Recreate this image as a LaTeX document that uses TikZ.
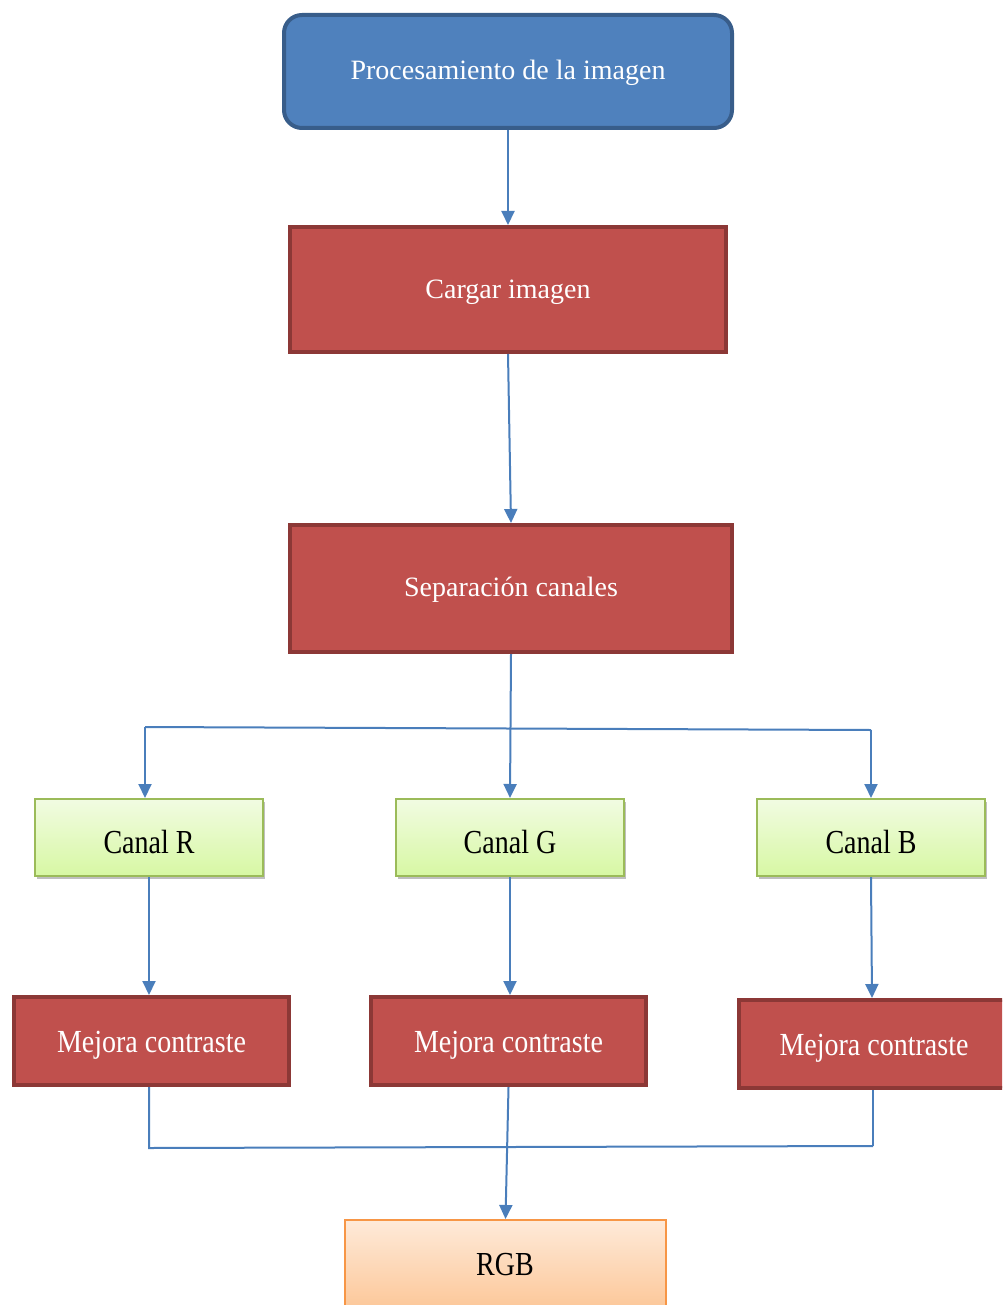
\documentclass[tikz,border=0pt]{standalone}
\usepackage{fontspec}
\setmainfont{Liberation Serif}
\usepackage{graphicx}
\usetikzlibrary{arrows.meta,shadows}
\definecolor{bluefill}{HTML}{4F81BD}
\definecolor{blueline}{HTML}{385D8A}
\definecolor{redfill}{HTML}{C0504D}
\definecolor{redline}{HTML}{8C3836}
\definecolor{greentop}{HTML}{F1FBE2}
\definecolor{greenbot}{HTML}{D7F8A3}
\definecolor{greenline}{HTML}{9BBB59}
\definecolor{orangetop}{HTML}{FEEAD9}
\definecolor{orangebot}{HTML}{FCC391}
\definecolor{orangeline}{HTML}{F79646}
\definecolor{arrowcol}{HTML}{4A7EBB}
\newcommand{\lowr}[2]{\raisebox{-#1}[\height][\depth]{#2}}
\tikzset{
  bluebox/.style={draw=blueline, fill=bluefill, line width=4pt, rounded corners=18pt,
    anchor=north west, text=white, font=\fontsize{28}{32}\selectfont, inner sep=0pt},
  redbox/.style={draw=redline, fill=redfill, line width=4pt,
    anchor=north west, text=white, font=\fontsize{28}{32}\selectfont, inner sep=0pt},
  greenbox/.style={draw=greenline, top color=greentop, bottom color=greenbot, line width=2pt,
    anchor=north west, text=black, font=\fontsize{28}{32}\selectfont, inner sep=0pt,
    drop shadow={shadow xshift=2pt, shadow yshift=-3pt, opacity=0.25, fill=black}},
  orangebox/.style={draw=orangeline, top color=orangetop, bottom color=orangebot, line width=2pt,
    anchor=north west, text=black, font=\fontsize{28}{32}\selectfont, inner sep=0pt},
  arr/.style={draw=arrowcol, line width=2pt, -{Triangle[length=14pt,width=13pt]}},
  conn/.style={draw=arrowcol, line width=2pt},
}
\begin{document}
\begin{tikzpicture}[x=1pt,y=-1pt]
\useasboundingbox (0,0) rectangle (1002,1305);
\clip (0,0) rectangle (1002,1305);
% nodes
\node[bluebox, minimum width=448pt, minimum height=113pt] (proc) at (282,13) {\lowr{1pt}{Procesamiento de la imagen}};
\node[redbox, minimum width=436pt, minimum height=125pt] (carg) at (288,225) {\lowr{3pt}{Cargar imagen}};
\node[redbox, minimum width=442pt, minimum height=127pt] (sep) at (288,523) {\lowr{1pt}{Separación canales}};
\node[greenbox, minimum width=228pt, minimum height=77pt] (cr) at (34,798) {\lowr{4pt}{\scalebox{1}[1.2]{Canal R}}};
\node[greenbox, minimum width=228pt, minimum height=77pt] (cg) at (395,798) {\lowr{4pt}{\scalebox{1}[1.2]{Canal G}}};
\node[greenbox, minimum width=228pt, minimum height=77pt] (cb) at (756,798) {\lowr{4pt}{\scalebox{1}[1.2]{Canal B}}};
\node[redbox, minimum width=275pt, minimum height=88pt] (m1) at (12,995) {\lowr{4pt}{\scalebox{1}[1.15]{Mejora contraste}}};
\node[redbox, minimum width=275pt, minimum height=88pt] (m2) at (369,995) {\lowr{4pt}{\scalebox{1}[1.15]{Mejora contraste}}};
\node[redbox, minimum width=290pt, minimum height=88pt] (m3) at (737,998) {};
\node[font=\fontsize{28}{32}\selectfont, text=white] (m3txt) at (874,1048) {\scalebox{1}[1.15]{Mejora contraste}};
\node[orangebox, minimum width=321pt, minimum height=100pt] (rgb) at (344,1219) {};
\node[font=\fontsize{28}{32}\selectfont] (rgbtxt) at (505,1265) {\scalebox{1}[1.2]{RGB}};
% connectors
\draw[arr] (proc.south) -- (carg.north);
\draw[arr] (carg.south) -- (sep.north);
\draw[arr] (sep.south) -- (cg.north);
\coordinate (jL) at (145,727);
\coordinate (jR) at (871,730);
\draw[conn] (jL) -- (jR);
\draw[arr] (jL) -- ([xshift=-4pt]cr.north);
\draw[arr] (jR) -- (cb.north);
\draw[arr] (cr.south) -- (cr.south |- m1.north);
\draw[arr] (cg.south) -- (cg.south |- m2.north);
\draw[arr] (cb.south) -- ([xshift=1pt]cb.south |- m3.north);
\coordinate (bL) at (149,1148);
\coordinate (bR) at (873,1146);
\draw[conn] (m1.south -| bL) -- (bL) -- (bR);
\draw[conn] (m3.south -| bR) -- (bR);
\draw[arr] (m2.south) -- (rgb.north);
\end{tikzpicture}
\end{document}
